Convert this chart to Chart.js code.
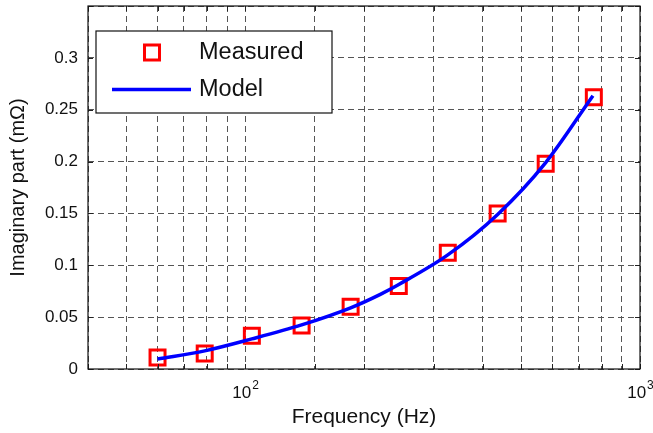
<!DOCTYPE html>
<html>
<head>
<meta charset="utf-8">
<script src="https://cdn.jsdelivr.net/npm/chart.js@4"></script>
<style>
  html, body { margin: 0; padding: 0; background: #fff; }
  #wrap { width: 653px; height: 433px; }
</style>
</head>
<body>
<div id="wrap"><canvas id="chart"></canvas></div>
<script>
// data
const freqMeasured = [60, 79, 104, 139, 185, 245, 326, 436, 577, 764];
const measured = [0.011, 0.015, 0.032, 0.042, 0.060, 0.080, 0.112, 0.150, 0.198, 0.262];
const freqModel = [60, 79, 104, 139, 185, 220, 245, 326, 436, 577, 760];
const model = [0.0096, 0.0175, 0.029, 0.0425, 0.059, 0.072, 0.0815, 0.110, 0.149, 0.199, 0.2635];
const xTickLabels = { 100: ["10", "2"], 1000: ["10", "3"] };
const legendItems = ["Measured", "Model"];

const FONT = "'Liberation Sans', Arial, Helvetica, sans-serif";

// frame, inside ticks, x tick labels and the legend box
const decorPlugin = {
    id: "decor",
    afterDraw(chart) {
        const ctx = chart.ctx;
        const a = chart.chartArea;
        const xs = chart.scales.x;
        const ys = chart.scales.y;
        ctx.save();

        // small inward ticks
        ctx.strokeStyle = "#222";
        ctx.lineWidth = 1;
        ctx.beginPath();
        xs.ticks.forEach((t) => {
            const px = Math.round(xs.getPixelForValue(t.value)) + 0.5;
            ctx.moveTo(px, a.bottom); ctx.lineTo(px, a.bottom - 5);
            ctx.moveTo(px, a.top); ctx.lineTo(px, a.top + 5);
        });
        ys.ticks.forEach((t) => {
            const py = Math.round(ys.getPixelForValue(t.value)) + 0.5;
            ctx.moveTo(a.left, py); ctx.lineTo(a.left + 5, py);
            ctx.moveTo(a.right, py); ctx.lineTo(a.right - 5, py);
        });
        ctx.stroke();

        // frame
        ctx.strokeStyle = "#111";
        ctx.lineWidth = 1.2;
        ctx.strokeRect(a.left, a.top, a.right - a.left, a.bottom - a.top);

        // x tick labels with superscript
        ctx.fillStyle = "#111";
        ctx.textBaseline = "alphabetic";
        Object.keys(xTickLabels).forEach((k) => {
            const [base, sup] = xTickLabels[k];
            const px = xs.getPixelForValue(Number(k));
            ctx.font = "17px " + FONT;
            const wb = ctx.measureText(base).width;
            ctx.font = "12px " + FONT;
            const ws = ctx.measureText(sup).width;
            const x0 = px - (wb + ws) / 2;
            ctx.font = "17px " + FONT;
            ctx.textAlign = "left";
            ctx.fillText(base, x0, 398);
            ctx.font = "12px " + FONT;
            ctx.fillText(sup, x0 + wb + 1, 389);
        });

        // legend
        const lx = 96, ly = 31, lw = 236, lh = 82;
        ctx.fillStyle = "#fff";
        ctx.fillRect(lx, ly, lw, lh);
        ctx.strokeStyle = "#111";
        ctx.lineWidth = 1.2;
        ctx.strokeRect(lx, ly, lw, lh);

        ctx.strokeStyle = "#ff0000";
        ctx.lineWidth = 3;
        ctx.strokeRect(152 - 7.5, 52.5 - 7.5, 15, 15);

        ctx.strokeStyle = "#0000ff";
        ctx.lineWidth = 3.5;
        ctx.beginPath();
        ctx.moveTo(112, 89.5);
        ctx.lineTo(191, 89.5);
        ctx.stroke();

        ctx.fillStyle = "#111";
        ctx.font = "23.5px " + FONT;
        ctx.textAlign = "left";
        ctx.textBaseline = "middle";
        ctx.fillText(legendItems[0], 199, 53);
        ctx.fillText(legendItems[1], 199, 90);

        ctx.restore();
    }
};

const ctx = document.getElementById("chart").getContext("2d");
const chart = new Chart(ctx, {
    type: "line",
    data: {
        datasets: [
            {
                label: legendItems[1],
                data: freqModel.map((f, i) => ({ x: f, y: model[i] })),
                borderColor: "#0000ff",
                borderWidth: 3.5,
                pointRadius: 0,
                cubicInterpolationMode: "monotone",
                fill: false,
                order: 0
            },
            {
                label: legendItems[0],
                data: freqMeasured.map((f, i) => ({ x: f, y: measured[i] })),
                showLine: false,
                pointStyle: "rect",
                pointRadius: 10.6,
                pointBorderWidth: 3,
                borderColor: "#ff0000",
                pointBorderColor: "#ff0000",
                backgroundColor: "rgba(0,0,0,0)",
                pointBackgroundColor: "rgba(0,0,0,0)",
                order: 1
            }
        ]
    },
    options: {
        responsive: true,
        maintainAspectRatio: false,
        animation: false,
        layout: { autoPadding: false, padding: { top: 6, right: 13, left: 0, bottom: 0 } },
        plugins: {
            legend: { display: false },
            tooltip: { enabled: false }
        },
        scales: {
            x: {
                type: "logarithmic",
                min: 40,
                max: 1000,
                afterFit: (s) => { s.height = 64; s.paddingLeft = 0; s.paddingRight = 0; },
                grid: { color: "#555", lineWidth: 1, drawTicks: false },
                border: { display: false, dash: [6, 4] },
                ticks: { display: false },
                title: {
                    display: true,
                    text: "Frequency (Hz)",
                    color: "#111",
                    font: { family: FONT, size: 21 },
                    padding: { top: 0, bottom: 3 }
                }
            },
            y: {
                min: 0,
                max: 0.35,
                afterFit: (s) => { s.width = 88; s.paddingTop = 0; s.paddingBottom = 0; },
                grid: { color: "#555", lineWidth: 1, drawTicks: false },
                border: { display: false, dash: [6, 4] },
                ticks: {
                    stepSize: 0.05,
                    padding: 10,
                    color: "#111",
                    font: { family: FONT, size: 17 },
                    callback: (v) => (v > 0.34 ? "" : String(Number(v.toFixed(2))))
                },
                title: {
                    display: true,
                    text: "Imaginary part (mΩ)",
                    color: "#111",
                    font: { family: FONT, size: 20 },
                    padding: { top: 6, bottom: 0 }
                }
            }
        }
    },
    plugins: [decorPlugin]
});
</script>
</body>
</html>
